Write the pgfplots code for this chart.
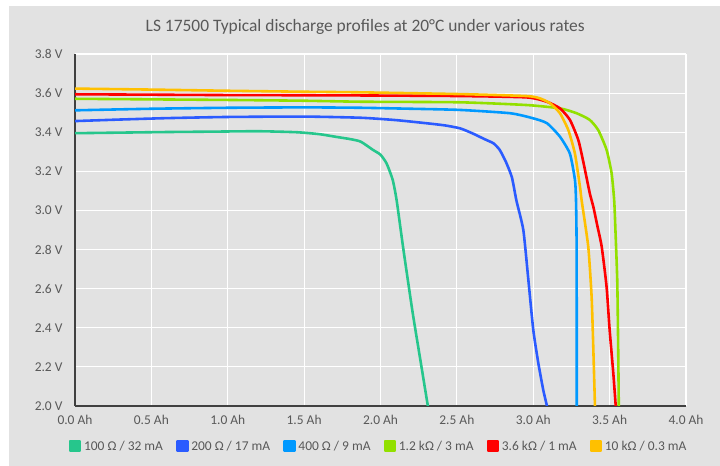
\documentclass[border=0pt]{standalone}
\usepackage{fontspec}
\setmainfont{Carlito}
\usepackage{pgfplots}
\pgfplotsset{compat=1.18}
\definecolor{bg}{HTML}{E2E2E2}
\definecolor{txt}{HTML}{595959}
\definecolor{cteal}{HTML}{26C68C}
\definecolor{cblue}{HTML}{2B5BFF}
\definecolor{clblue}{HTML}{0099FF}
\definecolor{clime}{HTML}{92E000}
\definecolor{cred}{HTML}{FF0000}
\definecolor{cyel}{HTML}{FFC000}
\begin{document}
\begin{tikzpicture}
\fill[white] (-75bp,-60bp) rectangle (645bp,406bp);
\fill[bg] (-66bp,-60bp) rectangle (645bp,400bp);
\begin{axis}[
  at={(0,0)}, anchor=south west,
  scale only axis, width=611bp, height=352bp,
  xmin=0, xmax=4, ymin=2, ymax=3.8,
  axis background/.style={fill=bg},
  grid=major, major grid style={white, line width=1.2pt},
  xtick={0,0.5,1,1.5,2,2.5,3,3.5,4},
  xticklabels={0.0 Ah,0.5 Ah,1.0 Ah,1.5 Ah,2.0 Ah,2.5 Ah,3.0 Ah,3.5 Ah,4.0 Ah},
  ytick={2,2.2,2.4,2.6,2.8,3,3.2,3.4,3.6,3.8},
  yticklabels={2.0 V,2.2 V,2.4 V,2.6 V,2.8 V,3.0 V,3.2 V,3.4 V,3.6 V,3.8 V},
  major tick length=0pt, tick style={draw=none},
  axis x line*=bottom, axis y line*=left,
  axis line style={line width=1.1pt, color=black!75, -},
  tick label style={font=\fontsize{13.5}{16}\selectfont, text=txt},
  xticklabel style={yshift=-6bp},
  yticklabel style={xshift=-9bp},
  title={LS 17500 Typical discharge profiles at 20°C under various rates},
  title style={at={(0.475,1.06)}, anchor=center, font=\fontsize{17.5}{20}\selectfont, text=txt},
  legend columns=6,
  legend style={at={(0.497,-0.114)}, anchor=center, draw=none, fill=none,
    font=\fontsize{13.5}{16}\selectfont, text=txt,
    /tikz/every even column/.append style={column sep=11bp}},
  legend image code/.code={\fill[#1] (0bp,-5bp) rectangle (10bp,5bp); \path[draw=none,fill=none] (0bp,0bp) -- (12bp,0bp);},
  every axis plot/.append style={line width=2.6pt, line join=round, smooth, tension=0.35},
]
\addplot[cteal] coordinates {(0,3.395)(0.3,3.398)(0.6,3.401)(0.9,3.403)(1.2,3.405)(1.45,3.40)(1.6,3.39)(1.72,3.375)(1.8,3.365)(1.87,3.352)(1.95,3.31)(2.0,3.285)(2.04,3.24)(2.08,3.156)(2.106,3.05)(2.15,2.80)(2.21,2.48)(2.26,2.24)(2.31,2.0)};
\addlegendentry{100 Ω / 32 mA}
\addplot[cblue] coordinates {(0,3.457)(0.3,3.465)(0.6,3.472)(1.0,3.478)(1.5,3.48)(1.87,3.474)(2.1,3.462)(2.3,3.446)(2.42,3.435)(2.52,3.42)(2.6,3.395)(2.68,3.365)(2.74,3.343)(2.78,3.31)(2.82,3.25)(2.86,3.17)(2.89,3.05)(2.935,2.90)(2.968,2.645)(3.0,2.39)(3.033,2.22)(3.066,2.08)(3.09,2.0)};
\addlegendentry{200 Ω / 17 mA}
\addplot[clblue] coordinates {(0,3.512)(0.5,3.52)(1.0,3.525)(1.5,3.527)(1.87,3.525)(2.2,3.52)(2.52,3.514)(2.85,3.497)(3.0,3.471)(3.09,3.446)(3.175,3.377)(3.24,3.29)(3.273,3.156)(3.28,3.05)(3.284,2.8)(3.285,2.0)};
\addlegendentry{400 Ω / 9 mA}
\addplot[clime] coordinates {(0,3.571)(0.5,3.568)(1.0,3.565)(1.5,3.561)(1.87,3.556)(2.52,3.553)(2.957,3.539)(3.175,3.522)(3.284,3.497)(3.37,3.463)(3.426,3.41)(3.48,3.31)(3.513,3.19)(3.53,3.05)(3.538,2.9)(3.55,2.64)(3.556,2.3)(3.56,2.0)};
\addlegendentry{1.2 kΩ / 3 mA}
\addplot[cred] coordinates {(0,3.594)(0.5,3.592)(1.0,3.59)(1.5,3.589)(1.87,3.588)(2.52,3.585)(2.957,3.578)(3.088,3.556)(3.175,3.522)(3.24,3.463)(3.295,3.36)(3.33,3.24)(3.37,3.088)(3.393,3.02)(3.42,2.92)(3.448,2.815)(3.48,2.61)(3.50,2.39)(3.524,2.168)(3.54,2.0)};
\addlegendentry{3.6 kΩ / 1 mA}
\addplot[cyel] coordinates {(0,3.623)(0.5,3.618)(1.0,3.612)(1.5,3.607)(1.87,3.604)(2.52,3.595)(2.957,3.585)(3.044,3.573)(3.11,3.548)(3.175,3.497)(3.23,3.41)(3.273,3.29)(3.306,3.12)(3.317,3.05)(3.36,2.815)(3.382,2.56)(3.393,2.30)(3.404,2.0)};
\addlegendentry{10 kΩ / 0.3 mA}
\end{axis}
\end{tikzpicture}
\end{document}
